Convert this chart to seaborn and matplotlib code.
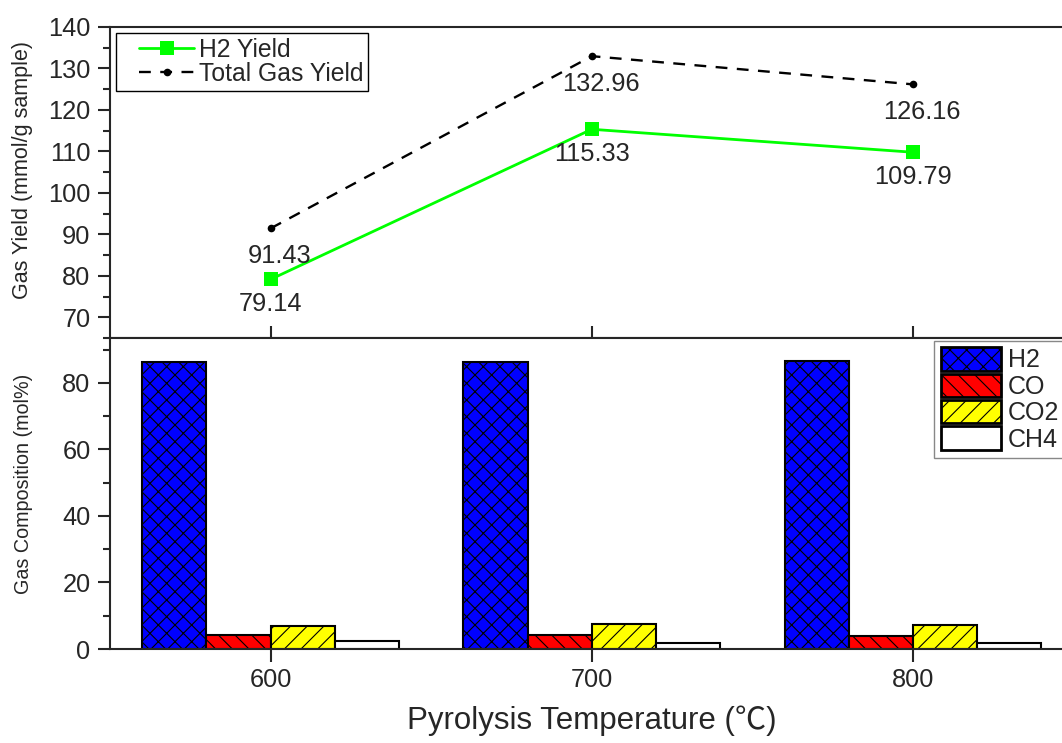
import numpy as np
import pandas as pd
import matplotlib
matplotlib.use("Agg")
import matplotlib.pyplot as plt
from matplotlib.patches import Patch
from matplotlib.lines import Line2D
from matplotlib.legend_handler import HandlerLine2D
from matplotlib.ticker import MultipleLocator
import seaborn as sns

# Data
temps = [600, 700, 800]
h2_yield = [79.14, 115.33, 109.79]
total_yield = [91.43, 132.96, 126.16]

gases = ["H2", "CO", "CO2", "CH4"]
comp_h2 = [86.2, 86.4, 86.7]
comp_co = [4.2, 4.2, 3.9]
comp_co2 = [6.9, 7.4, 7.2]
comp_ch4 = [2.4, 1.8, 1.9]

gas_colors = ["#0000ff", "#ff0000", "#ffff00", "#ffffff"]
gas_hatches = ["xx", "\\\\", "//", ""]

sns.set_style("ticks")
plt.rcParams["font.family"] = ["Liberation Sans", "Noto Sans CJK SC", "DejaVu Sans"]
plt.rcParams["hatch.linewidth"] = 0.8
plt.rcParams["axes.linewidth"] = 1.5

lines_df = pd.DataFrame({
    "temp": temps * 2,
    "value": h2_yield + total_yield,
    "series": ["H2 Yield"] * 3 + ["Total Gas Yield"] * 3,
})
comp_df = pd.DataFrame({
    "temp": temps * 4,
    "gas": [g for g in gases for _ in temps],
    "value": comp_h2 + comp_co + comp_co2 + comp_ch4,
})

NUM_FS = 18.3

fig = plt.figure(figsize=(10.62, 7.43), dpi=100)
left, width = 0.1036, 0.9073
ax1 = fig.add_axes([left, 0.5451, width, 0.4186])
ax2 = fig.add_axes([left, 0.1265, width, 0.4186], sharex=ax1)

# --- top: gas yields ---
h2 = lines_df[lines_df.series == "H2 Yield"]
tot = lines_df[lines_df.series == "Total Gas Yield"]
sns.lineplot(data=h2, x="temp", y="value", ax=ax1, color="#00ff00", lw=2.0,
             marker="s", markersize=10, markeredgewidth=0)
sns.lineplot(data=tot, x="temp", y="value", ax=ax1, color="black", lw=1.7,
             marker="o", markersize=5.5, markeredgewidth=0, dashes=(5, 4))

for x, y in zip(temps, total_yield):
    ax1.annotate(f"{y:.2f}", (x, y), xytext=(6.5, -20), textcoords="offset points",
                 ha="center", va="center", fontsize=NUM_FS)
for x, y in zip(temps, h2_yield):
    ax1.annotate(f"{y:.2f}", (x, y), xytext=(0, -18), textcoords="offset points",
                 ha="center", va="center", fontsize=NUM_FS)

ax1.set_ylim(65, 140)
ax1.set_xlim(550, 850)
ax1.yaxis.set_major_locator(MultipleLocator(10))
ax1.yaxis.set_minor_locator(MultipleLocator(5))
ax1.set_xticks(temps)
ax1.tick_params(axis="x", direction="in", length=9, width=1.5, labelbottom=False)
ax1.tick_params(axis="y", which="major", direction="out", length=9, width=1.5,
                labelsize=NUM_FS, pad=5)
ax1.tick_params(axis="y", which="minor", direction="out", length=5, width=1.5)
ax1.set_xlabel("")
ax1.set_ylabel("Gas Yield (mmol/g sample)", fontsize=15.5)
ax1.yaxis.set_label_coords(-0.080, 0.54)
for s in ["left", "top", "right", "bottom"]:
    ax1.spines[s].set_visible(True)

leg1_handles = [
    Line2D([], [], color="#00ff00", lw=2.0, marker="s", markersize=10, markeredgewidth=0),
    Line2D([], [], color="black", lw=1.7, marker="o", markersize=5.5, markeredgewidth=0,
           dashes=(5, 4)),
]
# shift the line sample right inside its box, as in the original legend
pad_handler = HandlerLine2D(xpad=0.73)
leg1 = ax1.legend(leg1_handles, ["H2 Yield", "Total Gas Yield"], loc="upper left",
                  fontsize=17.8, frameon=True, fancybox=False, framealpha=1,
                  edgecolor="black", borderpad=0.2, labelspacing=0.0,
                  handlelength=2.95, handletextpad=0.2, borderaxespad=0.25,
                  handler_map={Line2D: pad_handler})
leg1.get_frame().set_linewidth(1.0)

# --- bottom: gas composition ---
sns.barplot(data=comp_df, x="temp", y="value", hue="gas", hue_order=gases,
            palette=gas_colors, native_scale=True, gap=0, edgecolor="black",
            linewidth=1.5, saturation=1, errorbar=None, legend=False, ax=ax2)
for container, hatch in zip(ax2.containers, gas_hatches):
    for bar in container:
        bar.set_hatch(hatch)

ax2.set_xlim(550, 850)
ax2.set_ylim(0, 93.5)
ax2.set_xticks(temps)
ax2.set_xticklabels([str(t) for t in temps])
ax2.yaxis.set_major_locator(MultipleLocator(20))
ax2.yaxis.set_minor_locator(MultipleLocator(10))
ax2.tick_params(axis="x", direction="out", length=9, width=1.5, labelsize=NUM_FS, pad=5)
ax2.tick_params(axis="y", which="major", direction="out", length=9, width=1.5,
                labelsize=NUM_FS, pad=5)
ax2.tick_params(axis="y", which="minor", direction="out", length=5, width=1.5)
ax2.set_ylabel("Gas Composition (mol%)", fontsize=14.2)
ax2.yaxis.set_label_coords(-0.080, 0.53)
ax2.set_xlabel("Pyrolysis Temperature (℃)", fontsize=22.5)
ax2.xaxis.set_label_coords(0.5, -0.18)
for s in ["left", "top", "right", "bottom"]:
    ax2.spines[s].set_visible(True)

leg2_handles = [Patch(facecolor=c, edgecolor="black", hatch=h, linewidth=2.0)
                for c, h in zip(gas_colors, gas_hatches)]
leg2 = ax2.legend(leg2_handles, gases, loc="upper right", bbox_to_anchor=(0.992, 0.99),
                  fontsize=18, frameon=True, fancybox=False, framealpha=1,
                  edgecolor="#888888", borderpad=0.25, labelspacing=0.05,
                  handlelength=2.4, handleheight=1.05, handletextpad=0.3,
                  borderaxespad=0.0)
leg2.get_frame().set_linewidth(1.0)

fig.savefig("out.png", dpi=100)
